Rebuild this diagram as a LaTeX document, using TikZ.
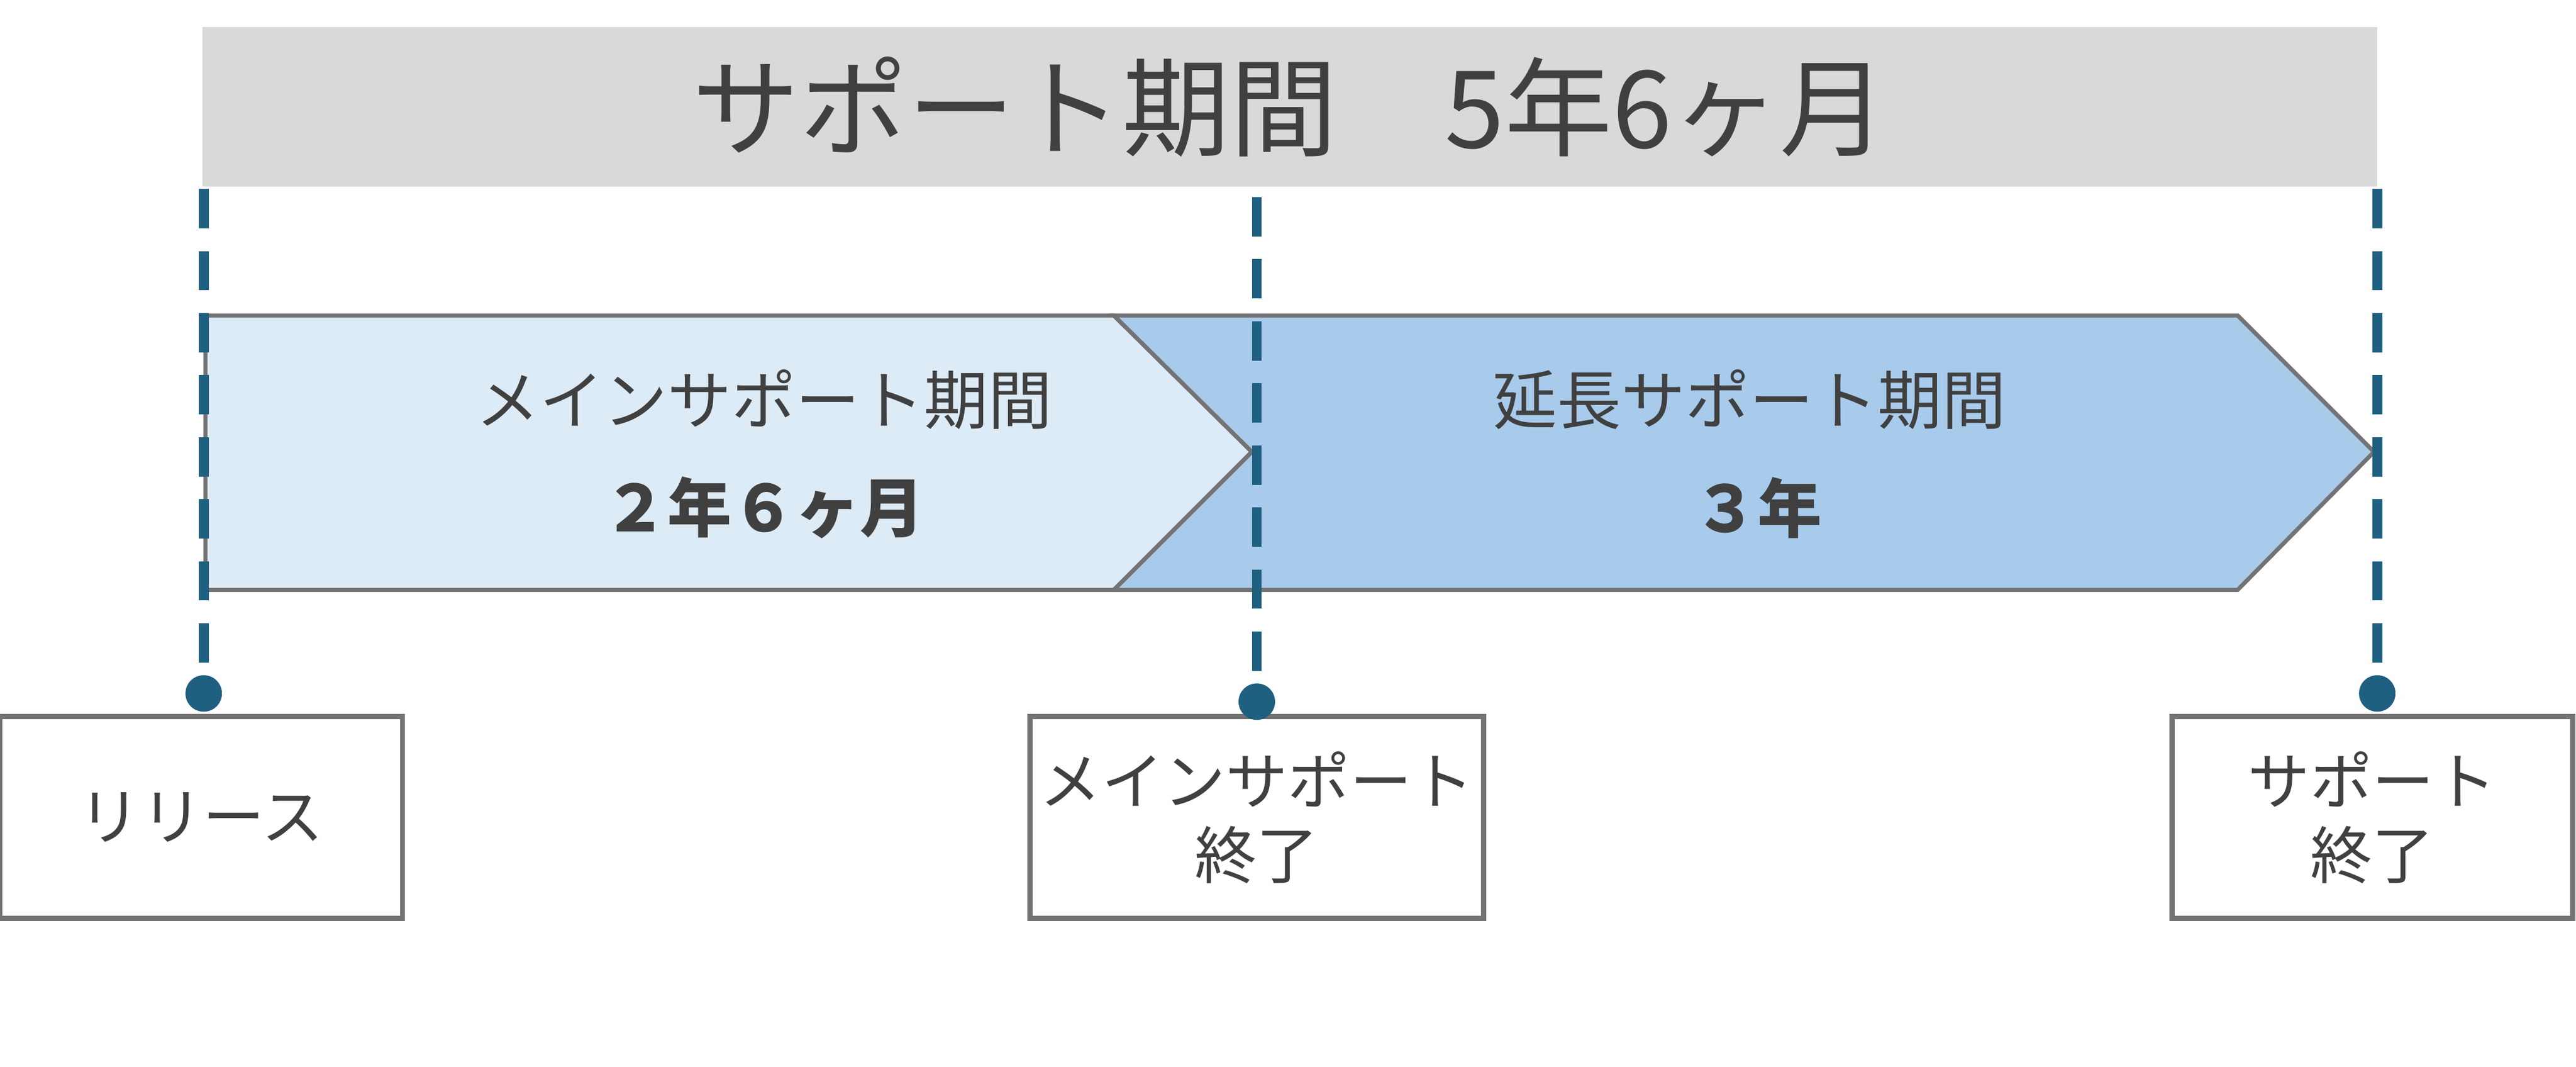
\documentclass[tikz,border=0pt]{standalone}
\usepackage{fontspec}
\setmainfont{Noto Sans CJK JP}
\usetikzlibrary{positioning}
\definecolor{lineblue}{HTML}{1F5F80}
\definecolor{paleblue}{HTML}{DDEBF7}
\definecolor{midblue}{HTML}{A8CBEC}
\definecolor{bargray}{HTML}{D9D9D9}
\definecolor{txtgray}{HTML}{404040}
\begin{document}
\begin{tikzpicture}[x=0.02792cm,y=-0.02792cm,
  tag/.style={draw=gray!90!black,line width=2.4pt,fill=white,minimum width=#1,minimum height=3.43cm,
    align=center,text=txtgray,font=\fontsize{30}{40}\selectfont},
  guide/.style={lineblue,line width=4.8pt,dash pattern=on 19pt off 11pt},
  dot/.style={circle,fill=lineblue,inner sep=0pt,minimum size=0.62cm},
  arrowfill/.style={draw=gray!90!black,line width=2pt},
  label/.style={text=txtgray,font=\fontsize{31}{36}\selectfont},
  years/.style={text=txtgray,font=\fontsize{31}{36}\selectfont\bfseries}]
\useasboundingbox (0,0) rectangle (1568,649);
% top bar
\node (bar) [fill=bargray,minimum width=36.96cm,minimum height=2.71cm,inner sep=0pt,
  text=txtgray,font=\fontsize{52}{60}\selectfont] at (785,65) {サポート期間　5年6ヶ月};
% phases
\draw[arrowfill,fill=paleblue] (125,192) -- (678,192) -- (762,275) -- (678,359) -- (125,359) -- cycle;
\draw[arrowfill,fill=midblue] (678,192) -- (1362,192) -- (1445,275) -- (1362,359) -- (678,359) -- (762,275) -- cycle;
\node (main) [label] at (465,243) {メインサポート期間};
\node (mainlen) [years] at (465,309) {２年６ヶ月};
\node (ext) [label] at (1065,243) {延長サポート期間};
\node (extlen) [years] at (1070,309) {３年};
% milestones
\node (release) [tag=6.84cm] at (122.5,497.5) {リリース};
\node (mainend) [tag=7.71cm] at (765,497.5) {メインサポート\\[-4pt]終了};
\node (allend) [tag=6.81cm] at (1444,497.5) {サポート\\[-4pt]終了};
\node (d1) [dot] at (124,422) {};
\node (d2) [dot] at (765,427) {};
\node (d3) [dot] at (1447,422) {};
\coordinate (t1) at (124,115);
\coordinate (t2) at (765,120);
\coordinate (t3) at (1447,115);
\foreach \i in {1,2,3} \draw[guide] (t\i) -- (d\i.center);
\end{tikzpicture}
\end{document}
